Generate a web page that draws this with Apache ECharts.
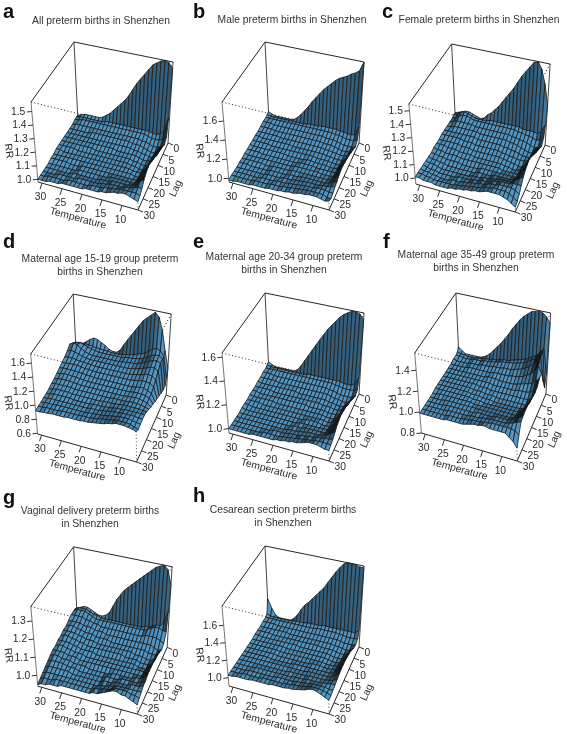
<!DOCTYPE html>
<html>
<head>
<meta charset="utf-8">
<style>html,body{margin:0;padding:0;background:#fff}#main{width:567px;height:734px}</style>
<script src="https://cdn.jsdelivr.net/npm/echarts@6/dist/echarts.min.js"></script>
</head>
<body>
<div id="main"></div>
<script>
// ==================================================
// axes of every panel
const temps = [31,30,29,28,27,26,25,24,23,22,21,20,19,18,17,16,15,14,13,12,11,10,9,8,7,6];
const lags = [0,1,2,4,6,8,10,12,14,16,18,20,22,24,26,28,30];
const tempTicks = [30,25,20,15,10];
const lagTicks = [0,5,10,15,20,25,30];

// ==================================================
// RR x 100, one row per lag, one column per temperature
const rrA = [
[103,104,105,105,105,105,105,106,108,110,113,116,119,122,126,131,136,140,144,148,152,154,156,157,156,152],
[103,104,104,104,104,104,104,104,105,105,105,105,105,105,105,105,105,105,105,105,105,104,104,105,108,118],
[103,103,104,104,104,104,104,104,104,104,104,104,104,104,104,104,104,104,104,104,103,102,102,102,103,106],
[102,103,103,103,103,103,103,103,103,103,103,103,103,103,103,103,103,103,103,102,102,101,100,100,101,103],
[102,102,102,102,102,102,103,103,103,103,103,103,103,103,103,103,103,102,102,102,101,100,99,99,100,105],
[102,102,102,102,102,102,102,102,102,102,102,102,102,102,102,102,102,102,101,101,100,100,99,99,101,108],
[102,102,102,102,102,102,102,102,102,102,102,102,102,102,101,101,101,101,101,101,100,99,99,100,103,111],
[102,102,102,102,102,102,102,102,102,101,101,101,101,101,101,101,101,101,101,100,100,99,99,100,104,112],
[102,102,102,102,102,101,101,101,101,101,101,101,101,101,101,101,101,101,101,100,100,99,99,101,106,113],
[102,102,101,101,101,101,101,101,101,101,101,101,101,101,101,101,101,101,101,101,100,100,100,102,107,114],
[101,101,101,101,101,101,101,101,101,101,101,101,101,101,101,101,101,101,101,101,101,100,100,102,108,114],
[101,101,101,101,101,100,100,100,101,101,101,101,101,101,101,101,101,101,101,101,101,101,101,103,108,113],
[100,100,100,100,100,100,100,100,101,101,101,101,101,101,101,101,102,102,102,102,102,102,102,104,108,112],
[100,100,100,100,100,100,100,101,101,101,101,101,101,101,102,102,102,103,103,103,103,103,104,105,108,110],
[100,100,100,100,101,101,101,101,101,102,102,102,102,102,102,103,103,104,104,104,104,105,105,106,107,107],
[100,100,101,101,101,101,101,102,102,102,102,102,102,103,103,103,104,104,105,105,106,106,106,106,106,105],
[100,100,100,101,101,101,102,102,102,102,102,102,103,103,103,103,104,104,105,106,106,107,107,106,105,104]
];
const rrB = [
[107,105,104,104,104,104,104,105,108,112,117,122,128,133,138,143,147,151,155,158,160,162,165,167,170,180],
[106,105,105,105,105,105,105,105,105,105,105,106,106,106,106,107,107,107,107,107,106,106,105,105,106,115],
[105,105,105,105,105,105,105,105,105,105,105,105,105,105,105,105,105,105,105,104,104,103,102,102,102,104],
[105,105,105,104,104,104,104,104,104,104,104,104,104,104,104,104,104,103,103,103,102,101,100,100,100,101],
[104,104,104,104,103,103,103,103,103,103,103,103,103,103,103,103,103,102,102,102,101,100,99,99,100,103],
[103,103,103,103,103,103,102,102,102,102,102,102,102,102,102,102,102,102,101,101,100,100,99,99,100,105],
[103,103,102,102,102,102,102,102,102,102,101,101,101,101,101,101,101,101,101,100,100,99,99,99,101,107],
[102,102,102,102,102,101,101,101,101,101,101,101,101,101,101,101,101,100,100,100,100,99,99,99,102,108],
[102,101,101,101,101,101,101,101,101,101,100,100,100,100,100,101,101,100,100,100,100,99,99,100,103,109],
[101,101,101,101,100,100,100,100,100,100,100,100,100,100,101,101,101,101,100,100,100,100,100,100,104,110],
[101,100,100,100,100,100,100,100,100,100,100,100,100,101,101,101,101,101,101,101,100,100,100,101,105,110],
[100,100,100,100,100,100,99,99,100,100,100,100,100,101,101,101,101,101,101,101,101,101,101,102,105,109],
[100,100,100,99,99,99,99,99,100,100,100,100,100,101,101,101,102,102,102,102,102,102,102,103,105,107],
[99,99,99,99,99,99,99,99,100,100,100,100,101,101,101,102,102,103,103,103,103,103,104,104,105,106],
[99,99,99,99,99,99,99,100,100,100,100,101,101,101,102,102,103,103,104,104,104,105,105,105,104,104],
[99,99,99,99,99,99,100,100,100,100,101,101,101,102,102,103,103,104,104,105,105,105,105,105,103,103],
[98,98,99,99,99,99,100,100,100,100,101,101,101,102,102,103,103,104,105,105,106,106,106,105,104,105]
];
const rrC = [
[104,105,106,107,107,106,105,104,105,108,110,113,116,120,124,128,132,137,142,146,150,154,155,150,140,125],
[104,105,107,108,107,106,105,105,105,105,106,106,106,106,106,106,106,106,106,105,105,105,105,104,107,112],
[103,104,106,107,107,106,105,105,105,105,105,105,105,105,105,105,105,105,104,104,103,103,102,101,102,105],
[103,104,105,105,105,105,105,104,104,104,104,104,104,104,104,104,104,103,103,102,102,101,100,99,99,101],
[103,103,104,104,104,104,104,104,104,103,103,103,103,103,103,103,103,102,102,101,100,99,98,98,99,103],
[103,103,103,103,103,103,103,103,103,102,102,102,102,102,102,102,101,101,100,100,99,98,98,98,101,107],
[103,103,103,103,103,103,102,102,102,101,101,101,101,101,101,101,100,100,99,99,98,98,98,99,103,110],
[102,102,102,102,102,102,101,101,101,100,100,100,100,100,100,100,100,99,99,98,98,97,97,99,105,111],
[102,102,102,101,101,101,100,100,100,100,99,99,99,99,99,99,99,99,98,98,97,97,98,100,106,112],
[102,101,101,100,100,100,100,99,99,99,99,99,99,99,99,99,99,99,98,98,98,98,98,101,107,112],
[101,101,100,100,99,99,99,99,98,98,98,98,98,99,99,99,99,99,99,99,99,99,99,102,107,111],
[101,100,100,99,99,98,98,98,98,98,98,98,98,99,99,99,99,100,100,100,100,100,101,103,107,110],
[101,100,100,99,98,98,98,98,98,98,98,98,99,99,99,100,100,101,101,102,102,102,102,104,106,108],
[101,100,99,99,98,98,98,98,98,99,99,99,99,100,100,101,101,102,103,103,104,104,104,105,105,105],
[101,100,100,99,99,98,98,98,99,99,99,100,100,101,101,102,102,103,104,104,105,105,105,105,104,102],
[101,101,100,100,99,99,99,99,99,99,100,100,101,101,102,102,103,104,104,105,105,105,105,104,102,100],
[101,101,100,100,100,99,99,99,99,100,100,101,101,102,102,103,103,104,105,105,105,105,104,103,101,99]
];
const rrD = [
[95,100,105,109,113,116,115,112,109,105,103,103,107,116,124,132,140,148,156,161,166,171,165,148,120,97],
[100,105,108,108,108,107,106,106,105,105,104,104,104,105,106,107,108,110,112,114,118,122,124,122,115,85],
[106,111,112,110,108,106,105,104,104,104,104,104,104,104,105,106,106,107,108,110,113,116,118,118,115,78],
[113,116,114,110,107,105,104,104,104,104,104,104,104,104,105,105,106,106,107,109,111,114,116,117,115,78],
[109,111,110,108,106,105,104,104,104,104,104,104,104,104,104,104,104,105,106,107,109,111,113,113,110,80],
[106,107,107,106,105,105,104,104,103,103,103,103,103,103,103,103,103,103,104,105,106,108,109,108,104,83],
[104,104,105,105,105,104,103,103,102,102,102,102,102,102,102,102,102,102,102,103,104,105,105,104,100,85],
[102,103,103,103,103,102,102,101,101,100,100,100,100,100,100,100,100,100,100,100,101,102,102,100,97,87],
[100,101,102,102,101,101,100,100,99,99,99,99,99,99,99,99,99,99,99,99,100,100,100,99,97,90],
[98,99,100,100,100,99,99,98,98,98,98,98,98,98,98,98,98,98,98,99,99,100,99,98,96,92],
[97,98,98,98,98,98,97,97,97,97,97,97,97,97,97,97,98,98,98,98,99,99,99,98,97,95],
[95,96,97,97,97,97,96,96,96,96,96,96,96,96,97,97,97,98,98,99,99,99,99,99,98,98],
[94,95,96,96,96,96,96,95,95,95,95,95,96,96,96,97,97,98,99,99,100,100,100,100,100,100],
[94,94,95,95,95,95,95,95,95,95,95,95,96,96,96,97,98,99,100,100,101,101,101,101,100,100],
[93,94,94,94,95,95,95,95,95,95,95,95,96,96,97,97,98,99,100,101,102,102,102,101,100,99],
[93,93,94,94,94,94,95,95,95,95,95,96,96,96,97,98,99,100,101,102,103,103,103,102,100,98],
[92,92,93,93,94,94,94,94,95,95,95,95,96,96,97,98,99,100,102,103,105,105,105,104,103,101]
];
const rrE = [
[106,104,103,103,103,103,103,103,105,109,114,119,124,129,134,139,144,148,152,156,159,161,163,163,162,158],
[105,104,104,104,104,104,104,104,104,104,104,105,105,105,105,105,105,105,105,105,105,104,104,104,106,112],
[104,104,104,104,104,104,104,104,104,104,104,104,104,104,104,104,104,104,104,103,103,102,102,102,102,104],
[104,104,104,103,103,103,103,103,103,103,103,103,103,103,103,103,103,103,102,102,101,100,100,100,100,102],
[103,103,103,103,103,102,102,102,102,102,102,102,102,102,102,102,102,102,102,101,100,100,99,99,100,104],
[103,102,102,102,102,102,102,102,102,102,102,101,101,101,101,101,101,101,101,100,100,99,99,99,101,107],
[102,102,102,102,102,101,101,101,101,101,101,101,101,101,101,101,101,101,100,100,100,99,99,100,103,109],
[102,102,101,101,101,101,101,101,101,101,101,101,101,101,101,100,100,100,100,100,99,99,99,100,104,111],
[102,101,101,101,101,101,101,100,100,100,100,100,100,100,100,100,100,100,100,100,99,99,99,101,105,112],
[101,101,101,101,100,100,100,100,100,100,100,100,100,100,100,100,100,100,100,100,100,99,100,102,106,113],
[101,101,100,100,100,100,100,100,100,100,100,100,100,100,100,100,101,101,101,101,100,100,100,102,107,113],
[101,100,100,100,100,100,100,100,100,100,100,100,100,100,100,101,101,101,101,101,101,101,101,103,107,112],
[100,100,100,100,100,100,100,100,100,100,100,100,100,100,101,101,101,102,102,102,102,102,102,104,107,111],
[100,100,100,100,100,100,100,100,100,100,100,100,100,101,101,101,102,102,103,103,103,103,104,105,107,109],
[100,100,100,100,100,100,100,100,100,100,101,101,101,101,102,102,102,103,103,104,104,105,105,106,106,107],
[100,100,100,100,100,100,100,100,101,101,101,101,101,102,102,103,103,104,104,105,105,106,106,106,106,106],
[100,100,100,100,100,100,101,101,101,101,101,101,102,102,103,103,104,104,105,106,107,107,107,106,105,105]
];
const rrF = [
[105,102,100,100,100,100,100,101,103,106,110,114,118,123,128,134,139,144,148,151,154,155,156,155,152,147],
[102,101,101,100,100,100,101,101,102,102,103,103,104,105,105,106,107,108,109,110,112,114,116,120,124,100],
[101,101,100,100,100,101,101,101,102,102,103,103,104,105,105,106,106,107,108,109,111,113,115,119,124,90],
[101,100,100,100,100,101,101,101,102,102,102,103,103,103,104,104,104,105,106,107,109,111,113,117,122,100],
[100,100,100,100,100,101,101,101,101,101,101,101,102,102,102,102,102,103,103,104,105,107,109,112,118,112],
[100,100,100,100,100,100,100,100,100,100,100,101,101,101,100,100,100,100,100,101,102,103,104,105,108,112],
[100,100,100,100,100,100,100,100,100,100,100,100,100,99,99,99,99,99,99,99,100,100,100,101,103,108],
[100,100,100,100,100,100,100,100,100,100,99,99,99,98,98,98,98,98,98,98,98,98,98,98,100,107],
[100,100,100,100,100,100,100,100,100,99,99,99,98,98,98,97,97,97,97,97,97,97,97,97,100,108],
[100,100,100,100,100,100,100,100,100,99,99,99,98,98,98,97,97,97,97,97,97,97,97,98,102,109],
[100,100,100,100,100,100,100,100,100,100,99,99,99,98,98,98,98,98,98,98,98,98,98,100,104,110],
[99,99,100,100,100,100,100,100,100,100,100,99,99,99,99,99,99,99,99,99,99,99,99,101,105,110],
[99,99,99,99,100,100,100,100,100,100,100,100,100,100,100,100,100,100,100,100,100,100,101,103,106,110],
[99,99,99,99,99,100,100,100,100,100,100,100,100,101,101,101,101,101,102,102,102,102,103,104,107,109],
[99,99,99,99,99,99,100,100,100,100,100,100,101,101,101,102,102,103,103,103,103,103,104,105,107,108],
[99,99,99,99,99,99,99,100,100,100,100,101,101,102,102,102,103,103,104,104,104,104,104,104,103,100],
[99,99,99,99,99,99,99,100,100,100,100,100,101,102,103,103,104,104,103,103,103,103,103,100,97,92]
];
const rrG = [
[104,105,106,106,105,104,103,103,104,106,110,114,117,120,122,124,126,128,130,132,134,136,137,138,136,128],
[105,106,106,106,105,104,104,103,103,103,103,103,103,103,103,103,103,103,103,104,104,105,106,106,108,115],
[105,106,106,106,105,104,103,103,103,103,103,103,103,103,103,103,103,103,103,103,104,105,106,106,105,105],
[105,105,105,105,104,104,103,103,102,102,102,102,102,102,102,102,102,102,102,102,103,103,103,103,102,101],
[104,104,104,104,103,103,103,102,102,102,101,101,101,101,101,101,101,101,101,101,101,101,101,100,99,100],
[103,104,104,103,103,102,102,102,101,101,101,101,100,100,100,100,100,100,100,100,100,100,99,99,99,101],
[103,103,103,103,102,102,101,101,101,100,100,100,100,100,100,100,100,100,100,99,99,99,98,98,99,102],
[102,103,103,102,102,101,101,100,100,100,100,100,100,100,100,100,100,99,99,99,99,98,98,98,99,102],
[102,102,102,102,101,101,100,100,100,100,99,99,99,99,99,99,99,99,99,99,99,98,98,98,100,103],
[101,102,102,101,101,100,100,100,99,99,99,99,99,99,99,99,99,99,99,99,99,99,99,99,100,103],
[101,101,101,101,100,100,100,99,99,99,99,99,99,99,99,99,99,99,99,99,99,99,99,99,101,103],
[100,101,101,100,100,100,99,99,99,99,98,98,98,98,98,98,99,99,99,99,99,99,100,100,101,103],
[99,100,100,100,100,99,99,99,98,98,98,98,98,98,98,99,99,99,99,100,100,100,100,100,101,102],
[98,99,99,99,99,99,99,98,98,98,98,98,98,98,98,99,99,99,100,100,100,100,101,101,101,102],
[97,98,98,98,98,98,98,98,98,98,98,98,98,98,98,99,99,100,100,101,101,101,101,101,101,101],
[96,97,97,97,98,98,98,98,98,98,98,98,98,98,99,99,100,100,101,102,102,102,102,101,101,100],
[95,96,96,97,97,97,98,98,98,98,98,98,98,98,99,99,100,101,102,103,103,102,102,101,100,99]
];
const rrH = [
[122,112,105,103,103,103,103,106,111,118,124,128,133,138,143,148,155,162,169,175,180,182,182,181,180,180],
[107,105,105,105,105,105,105,105,106,106,106,107,107,107,107,108,108,108,108,108,108,108,108,108,108,112],
[105,105,105,105,105,105,105,105,105,105,105,105,105,105,106,106,106,106,106,106,105,105,104,104,104,105],
[105,105,105,105,104,104,104,104,104,104,104,104,104,104,104,104,104,104,104,104,104,103,102,102,102,103],
[104,104,104,104,104,104,104,104,103,103,103,103,103,103,103,103,103,103,103,103,102,102,101,100,101,104],
[104,104,104,104,103,103,103,103,103,103,103,103,103,103,103,103,103,102,102,102,102,101,100,100,102,107],
[104,104,103,103,103,103,103,103,103,103,103,103,102,102,102,102,102,102,102,102,101,100,100,100,103,109],
[103,103,103,103,103,103,103,103,103,102,102,102,102,102,102,102,102,102,102,102,101,100,100,101,104,110],
[103,103,103,103,103,103,103,103,102,102,102,102,102,102,102,102,102,102,102,102,101,101,101,102,105,111],
[103,103,103,103,103,103,103,103,102,102,102,102,102,102,102,102,102,103,103,103,102,102,102,103,106,111],
[103,103,103,103,103,103,103,102,102,102,102,102,102,103,103,103,103,103,103,103,103,103,103,104,107,111],
[103,103,103,103,103,103,103,103,103,103,103,103,103,103,103,103,103,104,104,104,104,104,104,105,107,110],
[103,103,103,103,103,103,103,103,103,103,103,103,103,104,104,104,104,104,105,105,105,105,105,106,107,109],
[103,103,103,103,103,104,104,104,104,104,104,104,104,104,104,105,105,105,106,106,106,106,107,107,108,108],
[103,103,103,103,104,104,104,104,104,104,104,105,105,105,105,105,106,106,107,107,108,108,108,108,107,107],
[103,103,103,104,104,104,104,104,105,105,105,105,105,105,106,106,107,107,108,109,110,110,110,109,108,106],
[103,103,104,104,104,104,105,105,105,105,105,106,106,106,106,107,107,108,109,110,112,113,112,110,108,106]
];

// ==================================================
// RR axis ticks of each panel
const rrTicksA = ['1.0','1.1','1.2','1.3','1.4','1.5'];
const rrTicksB = ['1.0','1.2','1.4','1.6'];
const rrTicksC = ['1.0','1.1','1.2','1.3','1.4','1.5'];
const rrTicksD = ['0.6','0.8','1.0','1.2','1.4','1.6'];
const rrTicksE = ['1.0','1.2','1.4','1.6'];
const rrTicksF = ['0.8','1.0','1.2','1.4'];
const rrTicksG = ['1.0','1.1','1.2','1.3'];
const rrTicksH = ['1.0','1.2','1.4','1.6'];

// letter, title, rr, ticks, z range, grid position
const panels = [
  {tag:'a', x:0,   y:0,   tx:101, ty:15,  title:'All preterm births in Shenzhen', rr:rrA, ticks:rrTicksA, zr:[0.98,1.57], lx:3, ly:2},
  {tag:'b', x:191, y:0,   tx:292, ty:14,  title:'Male preterm births in Shenzhen', rr:rrB, ticks:rrTicksB, zr:[0.96,1.80], lx:193, ly:2},
  {tag:'c', x:378, y:2,   tx:479, ty:14,  title:'Female preterm births in Shenzhen', rr:rrC, ticks:rrTicksC, zr:[0.956,1.55], lx:382, ly:2},
  {tag:'d', x:-2,  y:252, tx:100, ty:253, title:'Maternal age 15-19 group preterm\nbirths in Shenzhen', rr:rrD, ticks:rrTicksD, zr:[0.59,1.73], lx:3, ly:232},
  {tag:'e', x:191, y:251, tx:284, ty:251, title:'Maternal age 20-34 group preterm\nbirths in Shenzhen', rr:rrE, ticks:rrTicksE, zr:[0.964,1.635], lx:193, ly:232},
  {tag:'f', x:385, y:251, tx:476, ty:249, title:'Maternal age 35-49 group preterm\nbirths in Shenzhen', rr:rrF, ticks:rrTicksF, zr:[0.80,1.565], lx:383, ly:232},
  {tag:'g', x:-1,  y:505, tx:90,  ty:505, title:'Vaginal delivery preterm births\nin Shenzhen', rr:rrG, ticks:rrTicksG, zr:[0.94,1.38], lx:3, ly:488},
  {tag:'h', x:191, y:504, tx:283, ty:504, title:'Cesarean section preterm births\nin Shenzhen', rr:rrH, ticks:rrTicksH, zr:[0.906,1.82], lx:193, ly:486}
];

// the same camera for all panels: where the eight box corners land in the panel plane
// index: x (temperature, 0 = warm) y (lag, 0 = lag 30) z (rr)
const box = {
  c000:[38,182], c100:[138,210], c010:[78,122], c110:[168,143],
  c001:[31,102], c101:[137,128], c011:[74,42],  c111:[173,62]
};

function project(u, v, w) {
  var out = [0, 0];
  for (var d = 0; d < 2; d++) {
    var bottom = (1 - v) * ((1 - u) * box.c000[d] + u * box.c100[d]) + v * ((1 - u) * box.c010[d] + u * box.c110[d]);
    var top = (1 - v) * ((1 - u) * box.c001[d] + u * box.c101[d]) + v * ((1 - u) * box.c011[d] + u * box.c111[d]);
    out[d] = (1 - w) * bottom + w * top;
  }
  return out;
}

const tMax = temps[0], tMin = temps[temps.length - 1], lagMax = lags[lags.length - 1];
function uOf(t) { return (tMax - t) / (tMax - tMin); }
function vOf(l) { return 1 - l / lagMax; }

const FONT = '"Liberation Sans", Arial, sans-serif';

// back to front: far lag first, warm side first
var cellOrder = [];
for (var j = 0; j < lags.length - 1; j++) {
  for (var i = 0; i < temps.length - 1; i++) {
    cellOrder.push([i, j]);
  }
}

function cellFill(p, i, j) {
  var f = function(a, b) { return (p.rr[b][a] / 100 - p.zr[0]) / (p.zr[1] - p.zr[0]); };
  var du = uOf(temps[i + 1]) - uOf(temps[i]);
  var dv = vOf(lags[j]) - vOf(lags[j + 1]);
  var zx = (f(i + 1, j) + f(i + 1, j + 1) - f(i, j) - f(i, j + 1)) / 2 / du;
  var zy = (f(i, j) + f(i + 1, j) - f(i, j + 1) - f(i + 1, j + 1)) / 2 / dv;
  var dot = (-0.55 * zx + 0.45 * zy + 0.7) / Math.sqrt(zx * zx + zy * zy + 1);
  var k = Math.max(0.12, Math.min(1.05, dot / 0.7));
  return 'rgb(' + Math.round(76 * k) + ',' + Math.round(142 * k) + ',' + Math.round(186 * k) + ')';
}

function surfaceItem(p) {
  return function(params, api) {
    var i = api.value(0), j = api.value(1);
    var corner = function(a, b) {
      var w = (p.rr[b][a] / 100 - p.zr[0]) / (p.zr[1] - p.zr[0]);
      return api.coord(project(uOf(temps[a]), vOf(lags[b]), w));
    };
    return {
      type: 'polygon',
      shape: {points: [corner(i, j), corner(i + 1, j), corner(i + 1, j + 1), corner(i, j + 1)]},
      style: {fill: cellFill(p, i, j), stroke: '#1b1a1a', lineWidth: 0.8}
    };
  };
}

function seg(a, b, stroke, dash, width) {
  return {
    type: 'line',
    shape: {x1: a[0], y1: a[1], x2: b[0], y2: b[1]},
    style: {stroke: stroke, lineWidth: width || 1, lineDash: dash || null}
  };
}

function label(txt, x, y, align, rot) {
  return {
    type: 'text', x: x, y: y, rotation: (rot || 0) * Math.PI / 180,
    style: {text: txt, fontSize: 10.3, fontFamily: FONT, fill: '#2b2b2b', align: align || 'center', verticalAlign: 'middle'}
  };
}

function frameItem(p) {
  return function(params, api) {
    var c = function(u, v, w) { return api.coord(project(u, v, w)); };
    var kids = [];
    var dots = [1.2, 2.2];
    // hidden edges, dotted
    kids.push(seg(c(0, 0, 1), c(1, 0, 1), '#444', dots));
    kids.push(seg(c(1, 1, 1), c(1, 0, 1), '#444', dots));
    kids.push(seg(c(1, 0, 1), c(1, 0, 0), '#666', dots));
    // box
    kids.push(seg(c(0, 0, 1), c(0, 1, 1), '#2a2424', null, 1));
    kids.push(seg(c(0, 1, 1), c(1, 1, 1), '#2a2424', null, 1));
    kids.push(seg(c(0, 1, 1), c(0, 1, 0), '#4a4444'));
    kids.push(seg(c(1, 1, 1), c(1, 1, 0), '#4a4444'));
    kids.push(seg(c(0, 0, 1), c(0, 0, 0), '#777'));
    kids.push(seg(c(0, 0, 0), c(1, 0, 0), '#2a2424'));
    kids.push(seg(c(1, 0, 0), c(1, 1, 0), '#2a2424'));

    // RR axis
    p.ticks.forEach(function(tk) {
      var q = c(0, 0, (parseFloat(tk) - p.zr[0]) / (p.zr[1] - p.zr[0]));
      kids.push(seg(q, [q[0] - 5, q[1] + 0.5], '#333'));
      kids.push(label(tk, q[0] - 6.5, q[1] + 0.5, 'right'));
    });
    var rrMid = c(0, 0, 0.5);
    kids.push(label('RR', rrMid[0] - 26, rrMid[1] + 9, 'center', -82));

    // temperature axis
    tempTicks.forEach(function(t) {
      var q = c(uOf(t), 0, 0);
      kids.push(seg(q, [q[0] - 2, q[1] + 6], '#333'));
      kids.push(label(String(t), q[0] - 1.5, q[1] + 14.5));
    });
    var tMid = c(0.5, 0, 0);
    kids.push(label('Temperature', tMid[0] - 10, tMid[1] + 22.5, 'center', -15));

    // lag axis
    lagTicks.forEach(function(l) {
      var q = c(1, vOf(l), 0);
      kids.push(seg(q, [q[0] + 5, q[1] + 2], '#333'));
      kids.push(label(String(l), q[0] + 5.5, q[1] + 6.5, 'left'));
    });
    var lMid = c(1, 0.5, 0);
    kids.push(label('Lag', lMid[0] + 23, lMid[1] + 12, 'center', 66));

    return {type: 'group', children: kids};
  };
}

var grids = [], xAxes = [], yAxes = [], series = [], titles = [];
panels.forEach(function(p, k) {
  grids.push({left: p.x, top: p.y, width: 190, height: 230});
  xAxes.push({type: 'value', gridIndex: k, min: 0, max: 190, show: false});
  yAxes.push({type: 'value', gridIndex: k, min: 0, max: 230, inverse: true, show: false});
  series.push({
    type: 'custom', xAxisIndex: k, yAxisIndex: k, silent: true, z: 1, progressive: 0,
    data: [[0, 0]], renderItem: frameItem(p)
  });
  series.push({
    type: 'custom', xAxisIndex: k, yAxisIndex: k, silent: true, z: 2, progressive: 0,
    data: cellOrder, renderItem: surfaceItem(p)
  });
  titles.push({
    text: p.tag, left: p.lx, top: p.ly,
    textStyle: {fontFamily: FONT, fontWeight: 'bold', fontSize: 20, color: '#111'}, padding: 0
  });
  titles.push({
    text: p.title, left: p.tx, top: p.ty, textAlign: 'center', padding: 0,
    textStyle: {fontFamily: FONT, fontWeight: 'normal', fontSize: 10.3, lineHeight: 13, color: '#333'}
  });
});

var chart = echarts.init(document.getElementById('main'), null, {renderer: 'canvas'});
chart.setOption({
  animation: false,
  backgroundColor: '#fff',
  title: titles,
  grid: grids,
  xAxis: xAxes,
  yAxis: yAxes,
  series: series
});
</script>
</body>
</html>
